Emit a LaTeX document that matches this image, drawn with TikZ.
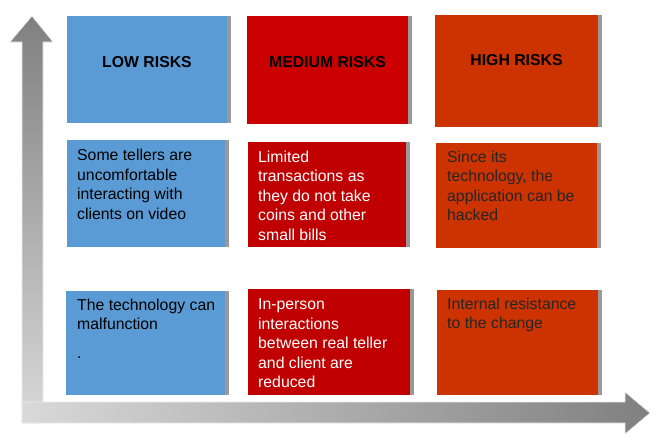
\documentclass[tikz,border=0pt]{standalone}
\usepackage{fontspec}
\setmainfont{Liberation Sans}
\definecolor{lowblue}{RGB}{91,155,213}
\definecolor{medred}{RGB}{204,0,0}
\definecolor{medcell}{RGB}{192,0,0}
\definecolor{highred}{RGB}{204,51,0}
\definecolor{edgegray}{RGB}{153,153,153}
\definecolor{axisdark}{RGB}{128,128,128}
\definecolor{axislight}{RGB}{217,217,217}

\begin{document}
\begin{tikzpicture}[x=1pt,y=-1pt,line join=miter,
    riskbox/.style 2 args={rectangle,anchor=north west,inner sep=0pt,
        minimum width=#1,minimum height=#2},
    headtxt/.style={anchor=base,font=\fontsize{15.8}{19}\selectfont\bfseries},
    celltxt/.style={anchor=north west,align=left,inner sep=0pt,
        font=\fontsize{15.8}{19.5}\selectfont,execute at begin node=\strut}]
    \useasboundingbox (0,0) rectangle (657,440);

    % Axes
    \shade[top color=axisdark,bottom color=axislight,draw=white!92!black,line width=0.6pt]
        (22,423) -- (22,42) -- (10,42) -- (32,16) -- (53,42) -- (43,42) -- (43,423) -- cycle;
    \shade[left color=axislight,right color=axisdark,draw=white!92!black,line width=0.6pt]
        (22,423) -- (22,402) -- (625,402) -- (625,392) -- (650,413) -- (625,434) -- (625,423) -- cycle;

    % Header row
    \node[riskbox={160}{107},fill=lowblue] (low1) at (67,16) {};
    \node[riskbox={161}{108},fill=medred] (med1) at (247,16) {};
    \node[riskbox={163}{112},fill=highred] (high1) at (435,15) {};
    \node[headtxt] (lowhead) at (147,67) {LOW RISKS};
    \node[headtxt] (medhead) at (327.5,67) {MEDIUM RISKS};
    \node[headtxt] (highhead) at (516.5,65) {HIGH RISKS};

    % Second row
    \node[riskbox={158}{107},fill=lowblue] (low2) at (67,140) {};
    \node[riskbox={158}{105},fill=medcell] (med2) at (248,142) {};
    \node[riskbox={161}{105},fill=highred] (high2) at (436,143) {};
    \node[celltxt] (lowtxt2) at ([xshift=10pt,yshift=-9.2pt]low2.north west)
        {Some tellers are\\uncomfortable\\interacting with\\clients on video};
    \node[celltxt,text=white] (medtxt2) at ([xshift=10pt,yshift=-8.8pt]med2.north west)
        {Limited\\transactions as\\they do not take\\coins and other\\small bills};
    \node[celltxt,text=black!85] (hightxt2) at ([xshift=11pt,yshift=-7.8pt]high2.north west)
        {Since its\\technology, the\\application can be\\hacked};

    % Third row
    \node[riskbox={159}{104},fill=lowblue] (low3) at (66,291) {};
    \node[riskbox={162}{106},fill=medcell] (med3) at (248,289) {};
    \node[riskbox={161}{105},fill=highred] (high3) at (437,290) {};
    \node[celltxt] (lowtxt3) at ([xshift=11pt,yshift=-7.8pt]low3.north west)
        {The technology can\\malfunction\\[9.5pt].};
    \node[celltxt,text=white] (medtxt3) at ([xshift=10pt,yshift=-9.6pt]med3.north west)
        {In-person\\interactions\\between real teller\\and client are\\reduced};
    \node[celltxt,text=black!85] (hightxt3) at ([xshift=10pt,yshift=-7.8pt]high3.north west)
        {Internal resistance\\to the change};

    % Right edge strips
    \foreach \b in {low1,med1,high1,low2,med2,high2,low3,med3,high3}
        \fill[edgegray] (\b.north east) rectangle ([xshift=3.5pt]\b.south east);
\end{tikzpicture}
\end{document}
